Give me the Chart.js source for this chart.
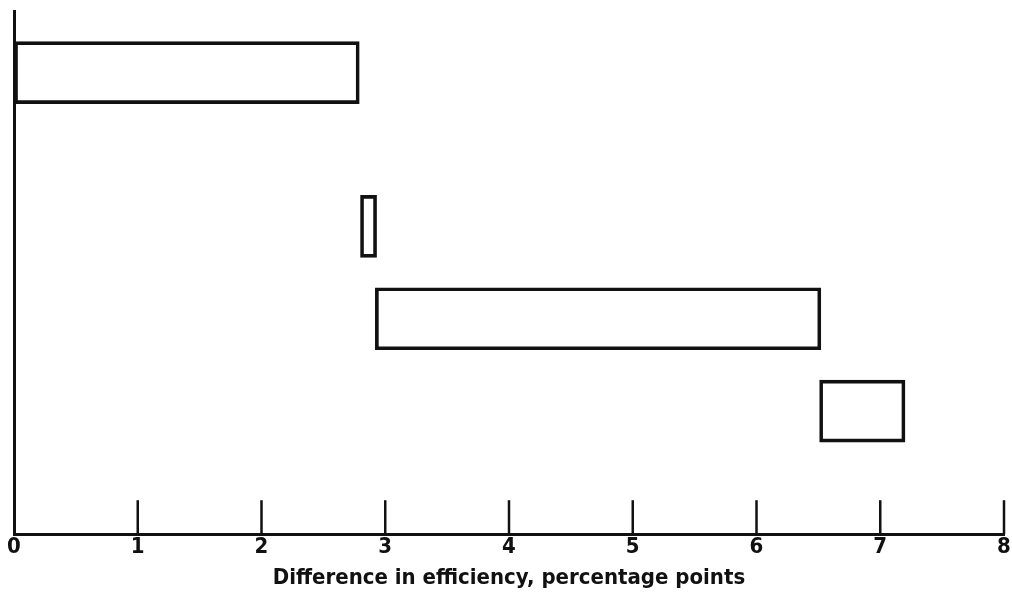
<!DOCTYPE html>
<html>
<head>
<meta charset="utf-8">
<script src="https://cdn.jsdelivr.net/npm/chart.js@4.4.1/dist/chart.umd.min.js"></script>
<style>
    html, body { margin: 0; padding: 0; background: #fff; }
    #wrap { width: 1012px; height: 599px; }
</style>
</head>
<body>
<div id="wrap"><canvas id="chart"></canvas></div>
<script>
// step starts / ends, percentage points
const stepStart = [0, 2.8, 2.92, 6.51];
const stepEnd = [2.79, 2.93, 6.52, 7.2];
// vertical slot of each step (original row labels are cut off)
const rowSlots = [2, 7, 10, 13];
const xTicks = [0, 1, 2, 3, 4, 5, 6, 7, 8];
const xTitle = 'Difference in efficiency, percentage points';

const ink = '#111';
const fontFamily = '"DejaVu Sans Condensed", "DejaVu Sans", sans-serif';

const upTicks = {
    id: 'upTicks',
    afterDatasetsDraw(chart) {
        const x = chart.scales.x;
        const c = chart.ctx;
        const bottom = chart.chartArea.bottom;
        c.save();
        c.strokeStyle = ink;
        c.lineWidth = 2.5;
        x.ticks.forEach(function (t) {
            if (t.value === 0) return;
            const px = x.getPixelForValue(t.value);
            c.beginPath();
            c.moveTo(px, bottom);
            c.lineTo(px, bottom - 34);
            c.stroke();
        });
        c.restore();
    }
};

const ctx = document.getElementById('chart');
new Chart(ctx, {
    type: 'bar',
    data: {
        datasets: [{
            data: rowSlots.map(function (r, i) { return { x: [stepStart[i], stepEnd[i]], y: r }; }),
            backgroundColor: 'rgba(255, 255, 255, 0)',
            borderColor: ink,
            borderWidth: 3,
            borderSkipped: false,
            barThickness: 62
        }]
    },
    options: {
        indexAxis: 'y',
        responsive: true,
        maintainAspectRatio: false,
        animation: false,
        layout: { padding: { left: 14, right: 8, top: 11, bottom: 8 } },
        plugins: {
            legend: { display: false },
            tooltip: { enabled: false }
        },
        scales: {
            x: {
                type: 'linear',
                min: 0,
                max: 8,
                afterBuildTicks: function (scale) {
                    scale.ticks = xTicks.map(function (v) { return { value: v }; });
                },
                ticks: {
                    color: ink,
                    padding: 0,
                    font: { family: fontFamily, size: 22, weight: 'bold' }
                },
                grid: { drawOnChartArea: false, drawTicks: false },
                border: { color: ink, width: 3 },
                title: {
                    display: true,
                    text: xTitle,
                    color: ink,
                    padding: { top: 4, bottom: 0 },
                    font: { family: fontFamily, size: 22, weight: 'bold' }
                }
            },
            y: {
                type: 'linear',
                reverse: true,
                offset: false,
                min: 0,
                max: 17,
                ticks: { display: false },
                grid: { drawOnChartArea: false, drawTicks: false },
                border: { color: ink, width: 3 }
            }
        }
    },
    plugins: [upTicks]
});
</script>
</body>
</html>
